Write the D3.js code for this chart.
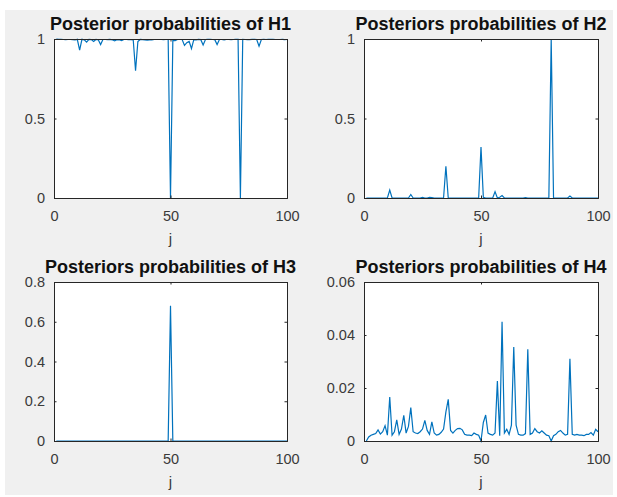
<!DOCTYPE html>
<html>
<head>
<meta charset="utf-8">
<script src="https://cdn.jsdelivr.net/npm/d3@7"></script>
<style>
  body { margin: 0; background: #ffffff; }
  text { font-family: "Liberation Sans", Arial, sans-serif; }
</style>
</head>
<body>
<div id="container"></div>
<script>
/* CONSTANTS AND GLOBALS */
const width = 617,
  height = 497;

// j = 1..100 (trial index)
const j = d3.range(1, 101);

// posterior probabilities
const H1 = [
  1.000, 0.998, 0.998, 0.997, 0.996, 0.997, 0.997, 0.996, 0.994, 0.998,
  0.930, 0.998, 0.995, 0.980, 0.997, 0.996, 0.985, 0.997, 0.995, 0.965,
  0.997, 0.997, 0.996, 0.997, 0.995, 0.988, 0.996, 0.995, 0.990, 0.997,
  0.997, 0.996, 0.996, 0.995, 0.800, 0.984, 0.997, 0.996, 0.995, 0.993,
  0.995, 0.995, 0.997, 0.997, 0.997, 0.997, 0.996, 0.997, 0.997, 0.000,
  0.990, 0.990, 0.997, 0.997, 0.997, 0.960, 0.977, 0.985, 0.940, 0.996,
  0.995, 0.997, 0.996, 0.963, 0.997, 0.998, 0.998, 0.997, 0.996, 0.965,
  0.997, 0.997, 0.995, 0.997, 0.997, 0.996, 0.997, 0.998, 0.998, 0.000,
  0.998, 0.997, 0.996, 0.996, 0.998, 0.998, 0.997, 0.955, 0.997, 0.998,
  0.997, 0.998, 0.998, 0.998, 0.997, 0.997, 0.997, 0.998, 0.996, 0.997
];

const H2 = [
  0, 0, 0, 0, 0, 0, 0, 0, 0, 0,
  0.050, 0, 0, 0, 0, 0, 0, 0, 0, 0.022,
  0, 0, 0, 0, 0.004, 0, 0, 0.004, 0.003, 0,
  0, 0, 0, 0, 0.200, 0, 0, 0, 0, 0,
  0, 0, 0, 0, 0, 0, 0, 0, 0, 0.320,
  0.004, 0, 0, 0, 0, 0.040, 0, 0.005, 0.015, 0,
  0, 0, 0, 0, 0, 0, 0, 0, 0.003, 0,
  0, 0, 0, 0, 0, 0, 0, 0, 0, 1.000,
  0, 0, 0, 0, 0, 0, 0, 0.012, 0, 0,
  0, 0, 0, 0, 0, 0, 0, 0, 0, 0
];

const H3 = [
  0, 0, 0, 0, 0, 0, 0, 0, 0, 0,
  0, 0, 0, 0, 0, 0, 0, 0, 0, 0,
  0, 0, 0, 0, 0, 0, 0, 0, 0, 0,
  0, 0, 0, 0, 0, 0, 0, 0, 0, 0,
  0, 0, 0, 0, 0, 0, 0, 0, 0, 0.680,
  0, 0, 0, 0, 0, 0, 0, 0, 0, 0,
  0, 0, 0, 0, 0, 0, 0, 0, 0, 0,
  0, 0, 0, 0, 0, 0, 0, 0, 0, 0,
  0, 0, 0, 0, 0, 0, 0, 0, 0, 0,
  0, 0, 0, 0, 0, 0, 0, 0, 0, 0
];

const H4 = [
  0.0000, 0.0015, 0.0022, 0.0025, 0.0028, 0.0042, 0.0026, 0.0035, 0.0058, 0.0022,
  0.0166, 0.0022, 0.0035, 0.0080, 0.0025, 0.0045, 0.0097, 0.0030, 0.0055, 0.0126,
  0.0035, 0.0030, 0.0028, 0.0035, 0.0045, 0.0078, 0.0040, 0.0025, 0.0072, 0.0030,
  0.0022, 0.0025, 0.0033, 0.0045, 0.0110, 0.0157, 0.0040, 0.0030, 0.0040, 0.0047,
  0.0048, 0.0042, 0.0025, 0.0022, 0.0022, 0.0020, 0.0030, 0.0025, 0.0022, 0.0000,
  0.0070, 0.0098, 0.0030, 0.0025, 0.0022, 0.0030, 0.0226, 0.0020, 0.0450, 0.0030,
  0.0044, 0.0025, 0.0060, 0.0355, 0.0060, 0.0025, 0.0022, 0.0022, 0.0028, 0.0346,
  0.0025, 0.0030, 0.0047, 0.0035, 0.0030, 0.0038, 0.0030, 0.0022, 0.0020, 0.0000,
  0.0020, 0.0025, 0.0035, 0.0040, 0.0030, 0.0022, 0.0025, 0.0310, 0.0025, 0.0022,
  0.0025, 0.0022, 0.0022, 0.0020, 0.0025, 0.0025, 0.0032, 0.0022, 0.0044, 0.0035
];

const titles = [
  "Posterior probabilities of H1",
  "Posteriors probabilities of H2",
  "Posteriors probabilities of H3",
  "Posteriors probabilities of H4"
];
const series = [H1, H2, H3, H4];
const yMax = [1, 1, 0.8, 0.06];
const yTicks = [[0, 0.5, 1], [0, 0.5, 1], [0, 0.2, 0.4, 0.6, 0.8], [0, 0.02, 0.04, 0.06]];
const xTicks = [0, 50, 100];

// panel boxes (left, top, right, bottom)
const boxes = [
  {l: 54, t: 39, r: 287, b: 198},
  {l: 364, t: 39, r: 598, b: 198},
  {l: 54, t: 282, r: 287, b: 441},
  {l: 364, t: 282, r: 598, b: 441}
];

const svg = d3.select("#container").append("svg")
  .attr("width", width)
  .attr("height", height);

// figure background
svg.append("rect")
  .attr("x", 5).attr("y", 10)
  .attr("width", 608).attr("height", 485)
  .attr("fill", "#f0f0f0");

const fmt = d => d3.format("~g")(d);

boxes.forEach((bx, i) => {
  const xScale = d3.scaleLinear().domain([0, 100]).range([bx.l, bx.r]);
  const yScale = d3.scaleLinear().domain([0, yMax[i]]).range([bx.b, bx.t]);
  const g = svg.append("g");

  g.append("rect")
    .attr("x", bx.l).attr("y", bx.t)
    .attr("width", bx.r - bx.l).attr("height", bx.b - bx.t)
    .attr("fill", "#ffffff");

  // data line
  const lineGen = d3.line()
    .x((d, k) => xScale(j[k]))
    .y(d => yScale(d));

  g.append("path")
    .datum(series[i])
    .attr("fill", "none")
    .attr("stroke", "#0072bd")
    .attr("stroke-width", 1.2)
    .attr("stroke-linejoin", "miter")
    .attr("d", lineGen);

  // axes (ticks point inward like MATLAB)
  const xAxis = d3.axisBottom(xScale).tickValues(xTicks).tickSize(-2.5).tickPadding(13).tickFormat(fmt);
  const yAxis = d3.axisLeft(yScale).tickValues(yTicks[i]).tickSize(-2.5).tickPadding(9).tickFormat(fmt);

  const xg = g.append("g").attr("transform", `translate(0,${bx.b})`).call(xAxis);
  const yg = g.append("g").attr("transform", `translate(${bx.l},0)`).call(yAxis);
  const xTop = g.append("g").attr("transform", `translate(0,${bx.t})`)
    .call(d3.axisTop(xScale).tickValues(xTicks).tickSize(-2.5).tickFormat(""));
  const yRight = g.append("g").attr("transform", `translate(${bx.r},0)`)
    .call(d3.axisRight(yScale).tickValues(yTicks[i]).tickSize(-2.5).tickFormat(""));

  [xg, yg, xTop, yRight].forEach(a => {
    a.select(".domain").attr("stroke", "#262626").attr("stroke-width", 1);
    a.selectAll(".tick line").attr("stroke", "#262626");
    a.selectAll(".tick text")
      .attr("fill", "#3a3a3a")
      .style("font-size", "14.5px");
  });

  // x label
  g.append("text")
    .attr("x", (bx.l + bx.r) / 2)
    .attr("y", bx.b + 46)
    .attr("text-anchor", "middle")
    .attr("fill", "#3a3a3a")
    .style("font-size", "15px")
    .text("j");

  // title
  g.append("text")
    .attr("x", (bx.l + bx.r) / 2)
    .attr("y", bx.t - 9.5)
    .attr("text-anchor", "middle")
    .attr("fill", "#111111")
    .style("font-size", "18px")
    .style("font-weight", "bold")
    .text(titles[i]);
});
</script>
</body>
</html>
